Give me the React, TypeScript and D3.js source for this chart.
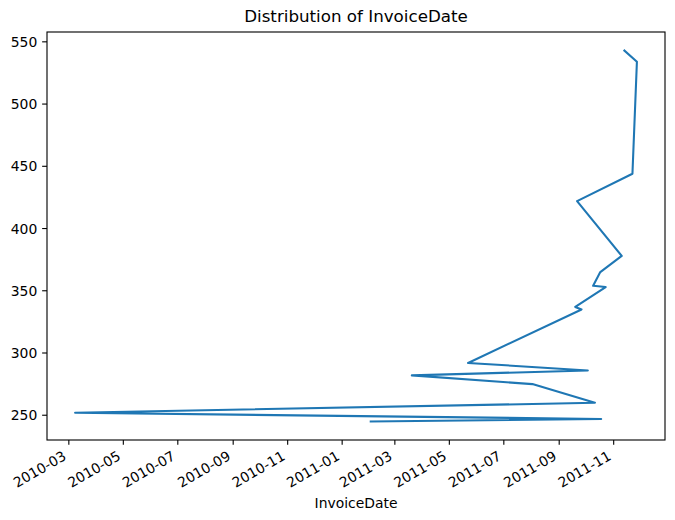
import React from "react";
import * as d3 from "d3";

const invoiceDates = [
  "2011-11-13", "2011-11-27", "2011-11-22", "2011-09-21", "2011-11-10",
  "2011-10-17", "2011-10-09", "2011-10-23", "2011-09-19", "2011-09-26",
  "2011-05-22", "2011-10-03", "2011-03-20", "2011-08-02", "2011-10-11",
  "2010-03-08", "2011-10-18", "2011-02-02",
];
const counts = [543, 534, 444, 422, 378, 365, 354, 353, 337, 335, 292, 286, 282, 275, 260, 252, 247, 245];
const yTickValues = [250, 300, 350, 400, 450, 500, 550];
const titleText = "Distribution of InvoiceDate";
const xLabelText = "InvoiceDate";

const W = 675, H = 520;
const M = { left: 47, right: 665, top: 32, bottom: 440 };
const FONT = "DejaVu Sans, sans-serif";
const FS = 13.9;

export default function App() {
  const parse = d3.utcParse("%Y-%m-%d");
  const data = invoiceDates.map((d, i) => ({ date: parse(d) as Date, value: counts[i] }));

  const [xmin, xmax] = d3.extent(data, (d) => +d.date) as [number, number];
  const xpad = (xmax - xmin) * 0.05;
  const x = d3.scaleUtc().domain([new Date(xmin - xpad), new Date(xmax + xpad)]).range([M.left, M.right]);

  const [ymin, ymax] = d3.extent(data, (d) => d.value) as [number, number];
  const ypad = (ymax - ymin) * 0.05;
  const y = d3.scaleLinear().domain([ymin - ypad, ymax + ypad]).range([M.bottom, M.top]);

  const xTicks = x.ticks(d3.utcMonth.every(2) as any);
  const fmt = d3.utcFormat("%Y-%m");

  const line = d3
    .line<{ date: Date; value: number }>()
    .x((d) => x(d.date))
    .y((d) => y(d.value));

  const tickLen = 4.86;
  return (
    <svg width={W} height={H} style={{ position: "absolute", left: 0, top: 0, background: "#fff" }} fontFamily={FONT}>
      <rect x={0} y={0} width={W} height={H} fill="#fff" />
      <path d={line(data) || ""} fill="none" stroke="#1f77b4" strokeWidth={2.08} strokeLinejoin="round" strokeLinecap="square" />
      <rect x={M.left} y={M.top} width={M.right - M.left} height={M.bottom - M.top} fill="none" stroke="#000" strokeWidth={1.11} />
      {yTickValues.map((v) => (
        <g key={v}>
          <line x1={M.left} x2={M.left - tickLen} y1={y(v)} y2={y(v)} stroke="#000" strokeWidth={1.11} />
          <text x={M.left - tickLen - 4.86} y={y(v)} dy="0.36em" textAnchor="end" fontSize={FS} fill="#000">
            {v}
          </text>
        </g>
      ))}
      {xTicks.map((t) => {
        const tx = x(t);
        return (
          <g key={+t}>
            <line x1={tx} x2={tx} y1={M.bottom} y2={M.bottom + tickLen} stroke="#000" strokeWidth={1.11} />
            <text
              transform={`translate(${tx - 1.6},${M.bottom + tickLen + 4.86 + 9.2}) rotate(-30)`}
              textAnchor="end"
              fontSize={FS}
              fill="#000"
            >
              {fmt(t)}
            </text>
          </g>
        );
      })}
      <text x={(M.left + M.right) / 2} y={508} textAnchor="middle" fontSize={FS} fill="#000">
        {xLabelText}
      </text>
      <text x={(M.left + M.right) / 2} y={22} textAnchor="middle" fontSize={16.7} fill="#000">
        {titleText}
      </text>
    </svg>
  );
}
